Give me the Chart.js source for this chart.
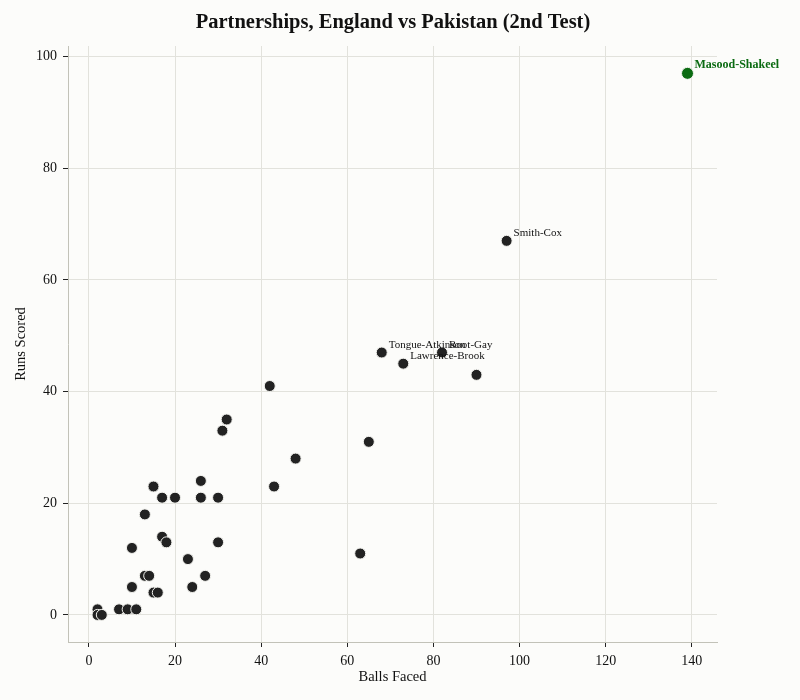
<!DOCTYPE html>
<html>
<head>
<meta charset="utf-8">
<script src="https://cdn.jsdelivr.net/npm/chart.js@4.4.1/dist/chart.umd.min.js"></script>
<style>
  html, body { margin: 0; padding: 0; background: #fcfcfa; }
  #wrap { width: 800px; height: 700px; }
</style>
</head>
<body>
<div id="wrap"><canvas id="chart" width="800" height="700"></canvas></div>
<script>
// Partnerskap: baller møtt mot runs, én rad per partnerskap.
const balls = [2, 2, 3, 7, 9, 11, 10, 13, 14, 15, 16, 10, 13, 15, 17, 20, 17, 18, 23, 27,
  24, 26, 26, 30, 30, 42, 32, 31, 65, 48, 43, 63, 97, 68, 82, 73, 90];
const runs = [1, 0, 0, 1, 1, 1, 5, 7, 7, 4, 4, 12, 18, 23, 21, 21, 14, 13, 10, 7,
  5, 24, 21, 21, 13, 41, 35, 33, 31, 28, 23, 11, 67, 47, 47, 45, 43];
const names = ["", "", "", "", "", "", "", "", "", "", "", "", "", "", "", "", "", "", "", "",
  "", "", "", "", "", "", "", "", "", "", "", "", "Smith-Cox", "Tongue-Atkinson", "Root-Gay", "Lawrence-Brook", ""];

// Det største partnerskapet fremheves i grønt
const topBalls = [139];
const topRuns = [97];
const topNames = ["Masood-Shakeel"];

const xTicks = [0, 20, 40, 60, 80, 100, 120, 140];
const yTicks = [0, 20, 40, 60, 80, 100];

const FONT = "'Liberation Serif', 'DejaVu Serif', serif";
const INK = "#222222";
const GREEN = "#0b6b12";

const toPoints = (xs, ys) => xs.map((x, i) => ({ x, y: ys[i] }));

const background = {
  id: "background",
  beforeDraw(chart) {
    const { ctx } = chart;
    ctx.save();
    ctx.fillStyle = "#fcfcfa";
    ctx.fillRect(0, 0, chart.width, chart.height);
    ctx.restore();
  },
};

const titleText = {
  id: "titleText",
  afterDraw(chart) {
    const { ctx } = chart;
    ctx.save();
    ctx.fillStyle = "#111";
    ctx.font = `bold 20.5px ${FONT}`;
    ctx.textAlign = "center";
    ctx.textBaseline = "middle";
    ctx.fillText("Partnerships, England vs Pakistan (2nd Test)", 393, 23);
    ctx.restore();
  },
};

// Navn ved de store partnerskapene
const pointLabels = {
  id: "pointLabels",
  afterDatasetsDraw(chart) {
    const { ctx } = chart;
    ctx.save();
    ctx.textAlign = "left";
    ctx.textBaseline = "alphabetic";
    chart.data.datasets.forEach((ds, di) => {
      const meta = chart.getDatasetMeta(di);
      meta.data.forEach((el, i) => {
        const name = ds.names[i];
        if (!name) return;
        ctx.fillStyle = ds.labelColor;
        ctx.font = ds.labelFont;
        ctx.fillText(name, el.x + 7, el.y - 5);
      });
    });
    ctx.restore();
  },
};

new Chart(document.getElementById("chart"), {
  type: "scatter",
  data: {
    datasets: [
      { data: toPoints(balls, runs), names, labelColor: "#111", labelFont: `11px ${FONT}`,
        backgroundColor: INK, borderColor: "#f4f4f0", borderWidth: 1, pointRadius: 5.5 },
      { data: toPoints(topBalls, topRuns), names: topNames, labelColor: GREEN, labelFont: `bold 12px ${FONT}`,
        backgroundColor: GREEN, borderColor: "#f4f4f0", borderWidth: 1, pointRadius: 6 },
    ],
  },
  options: {
    responsive: false,
    animation: false,
    layout: { padding: { left: 0, right: 83, top: 46, bottom: 0 } },
    plugins: { legend: { display: false }, tooltip: { enabled: false }, title: { display: false } },
    scales: {
      x: {
        type: "linear", min: -4.85, max: 145.85,
        afterBuildTicks: (axis) => { axis.ticks = xTicks.map((v) => ({ value: v })); },
        afterFit: (s) => { s.height = 58; },
        grid: { color: "#e2e2dc", tickColor: INK, tickLength: 5, lineWidth: 1 },
        border: { display: true, color: "#c2c2b8", width: 1 },
        ticks: { color: "#111", font: { family: FONT, size: 14 }, padding: 6, maxRotation: 0 },
        title: { display: true, text: "Balls Faced", color: "#111", font: { family: FONT, size: 14.5 },
          padding: { top: 14, bottom: 14 } },
      },
      y: {
        type: "linear", min: -4.85, max: 101.9,
        afterBuildTicks: (axis) => { axis.ticks = yTicks.map((v) => ({ value: v })); },
        afterFit: (s) => { s.width = 68; },
        grid: { color: "#e2e2dc", tickColor: INK, tickLength: 5, lineWidth: 1 },
        border: { display: true, color: "#c2c2b8", width: 1 },
        ticks: { color: "#111", font: { family: FONT, size: 14 }, padding: 6 },
        title: { display: true, text: "Runs Scored", color: "#111", font: { family: FONT, size: 14.5 },
          padding: { top: 12, bottom: 12 } },
      },
    },
  },
  plugins: [background, pointLabels, titleText],
});
</script>
</body>
</html>
